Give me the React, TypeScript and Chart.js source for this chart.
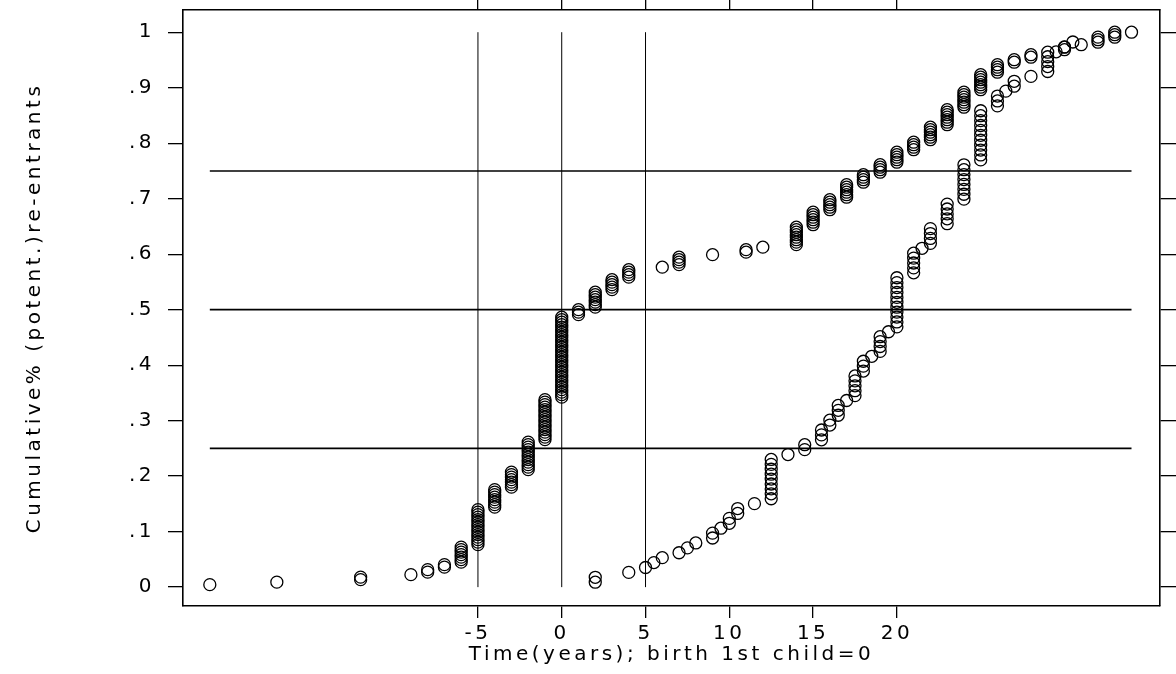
import React, { useEffect, useRef } from "react";
import { Chart, registerables } from "chart.js";

Chart.register(...registerables);

// Series A: event times (years relative to birth of 1st child) and number of persons at each time
const timesA = [-21, -17, -12, -9, -8, -7, -6, -5, -4, -3, -2, -1, 0, 1, 2, 3, 4, 6, 7, 9, 11, 12, 14, 15, 16, 17, 18, 19, 20, 21, 22, 23, 24, 25, 26, 27, 28, 29, 30, 31, 32, 33, 34];
const countsA = [1, 1, 2, 1, 2, 2, 7, 15, 8, 7, 12, 17, 33, 3, 7, 5, 4, 1, 4, 1, 2, 1, 8, 6, 5, 6, 4, 4, 5, 4, 6, 7, 7, 7, 4, 2, 2, 1, 2, 1, 2, 2, 1];

// Series B
const timesB = [2, 4, 5, 5.5, 6, 7, 7.5, 8, 9, 9.5, 10, 10.5, 11.5, 12.5, 13.5, 14.5, 15.5, 16, 16.5, 17, 17.5, 18, 18.5, 19, 19.5, 20, 21, 21.5, 22, 23, 24, 25, 26, 26.5, 27, 28, 29, 29.5, 30, 30.5, 32, 33];
const countsB = [2, 1, 1, 1, 1, 1, 1, 1, 2, 1, 2, 2, 1, 9, 1, 2, 3, 2, 3, 1, 5, 3, 1, 4, 1, 11, 5, 1, 4, 5, 8, 11, 3, 1, 2, 1, 4, 1, 1, 1, 1, 1];

const xTickValues = [-5, 0, 5, 10, 15, 20];
const yTickValues = [0, 0.1, 0.2, 0.3, 0.4, 0.5, 0.6, 0.7, 0.8, 0.9, 1];
const yTickLabels = ["0", ".1", ".2", ".3", ".4", ".5", ".6", ".7", ".8", ".9", "1"];

const verticalRefX = [-5, 0, 5];
const verticalRefSpan = [0, 1];
const horizontalRefY = [0.25, 0.5, 0.75];
const horizontalRefSpan = [-21, 34];

const xTitle = "Time(years); birth 1st child=0";
const yTitle = "Cumulative% (potent.)re-entrants";

const X_MIN = -22.6;
const X_MAX = 35.7;
const Y_MIN = -0.034;
const Y_MAX = 1.04;

const FONT = "'DejaVu Sans', 'Liberation Sans', sans-serif";

function cumulative(times: number[], counts: number[]) {
  const total = counts.reduce((a, b) => a + b, 0);
  const pts: { x: number; y: number }[] = [];
  let rank = 0;
  times.forEach((t, i) => {
    for (let k = 0; k < counts[i]; k++) {
      rank++;
      pts.push({ x: t, y: rank / total });
    }
  });
  return pts;
}

const spacingPlugin = {
  id: "letterSpacing",
  beforeLayout(chart: any) {
    chart.ctx.letterSpacing = "3.5px";
  },
  beforeDraw(chart: any) {
    chart.ctx.letterSpacing = "3.5px";
  },
};

function fixBox(size: { width?: number; height?: number }) {
  return (s: any) => {
    if (size.width !== undefined) s.width = size.width;
    if (size.height !== undefined) s.height = size.height;
    s.paddingTop = 0;
    s.paddingBottom = 0;
    s.paddingLeft = 0;
    s.paddingRight = 0;
  };
}

export default function App() {
  const ref = useRef<HTMLCanvasElement | null>(null);

  useEffect(() => {
    if (!ref.current) return;
    const black = "#000";
    const lineSets: any[] = [
      ...verticalRefX.map((x) => ({
        data: verticalRefSpan.map((y) => ({ x, y })),
        showLine: true,
        borderColor: black,
        borderWidth: 1,
        pointRadius: 0,
      })),
      ...horizontalRefY.map((y) => ({
        data: horizontalRefSpan.map((x) => ({ x, y })),
        showLine: true,
        borderColor: black,
        borderWidth: 1.6,
        pointRadius: 0,
      })),
    ];
    const pointStyle = {
      showLine: false,
      pointStyle: "circle",
      pointRadius: 6,
      pointBorderWidth: 1.3,
      pointBorderColor: black,
      pointBackgroundColor: "rgba(0,0,0,0)",
      borderColor: black,
      backgroundColor: "rgba(0,0,0,0)",
    };
    const gridCommon = {
      display: true,
      drawOnChartArea: false,
      drawTicks: true,
      color: black,
      lineWidth: 1.3,
    };
    const border = { display: true, color: black, width: 1.6 };

    const chart = new Chart(ref.current, {
      type: "scatter",
      data: {
        datasets: [
          ...lineSets,
          { label: "A", data: cumulative(timesA, countsA), ...pointStyle },
          { label: "B", data: cumulative(timesB, countsB), ...pointStyle },
        ],
      },
      options: {
        responsive: false,
        animation: false,
        events: [],
        layout: { padding: 0 },
        plugins: {
          legend: { display: false },
          tooltip: { enabled: false },
        },
        scales: {
          x: {
            type: "linear",
            position: "bottom",
            min: X_MIN,
            max: X_MAX,
            afterBuildTicks: (s: any) => {
              s.ticks = xTickValues.map((v) => ({ value: v }));
            },
            afterFit: fixBox({ height: 68 }),
            grid: { ...gridCommon, tickLength: 12 },
            border,
            ticks: {
              color: black,
              font: { family: FONT, size: 20 },
              padding: 4,
              maxRotation: 0,
              autoSkip: false,
              callback: (v: any) => String(v),
            },
            title: {
              display: true,
              text: xTitle,
              color: black,
              font: { family: FONT, size: 20 },
              padding: { top: 0, bottom: 7 },
            },
          },
          y: {
            type: "linear",
            position: "left",
            min: Y_MIN,
            max: Y_MAX,
            afterBuildTicks: (s: any) => {
              s.ticks = yTickValues.map((v) => ({ value: v }));
            },
            afterFit: fixBox({ width: 183 }),
            grid: { ...gridCommon, tickLength: 15 },
            border,
            ticks: {
              color: black,
              font: { family: FONT, size: 20 },
              padding: 13,
              autoSkip: false,
              callback: (_v: any, i: number) => yTickLabels[i],
            },
            title: {
              display: true,
              text: yTitle,
              color: black,
              font: { family: FONT, size: 20 },
              padding: { top: 23, bottom: 0 },
            },
          },
          x2: {
            type: "linear",
            position: "top",
            min: X_MIN,
            max: X_MAX,
            afterBuildTicks: (s: any) => {
              s.ticks = xTickValues.map((v) => ({ value: v }));
            },
            afterFit: fixBox({ height: 10 }),
            grid: { ...gridCommon, tickLength: 10 },
            border,
            ticks: { display: true, callback: () => "", font: { size: 1 }, padding: 0 },
          },
          y2: {
            type: "linear",
            position: "right",
            min: Y_MIN,
            max: Y_MAX,
            afterBuildTicks: (s: any) => {
              s.ticks = yTickValues.map((v) => ({ value: v }));
            },
            afterFit: fixBox({ width: 16 }),
            grid: { ...gridCommon, tickLength: 16 },
            border,
            ticks: { display: true, callback: () => "", font: { size: 1 }, padding: 0 },
          },
        },
      } as any,
      plugins: [spacingPlugin],
    });
    return () => chart.destroy();
  }, []);

  return (
    <div
      style={{
        position: "fixed",
        left: 0,
        top: 0,
        width: 1176,
        height: 674,
        background: "#fff",
      }}
    >
      <canvas ref={ref} width={1176} height={674} style={{ display: "block" }} />
    </div>
  );
}
